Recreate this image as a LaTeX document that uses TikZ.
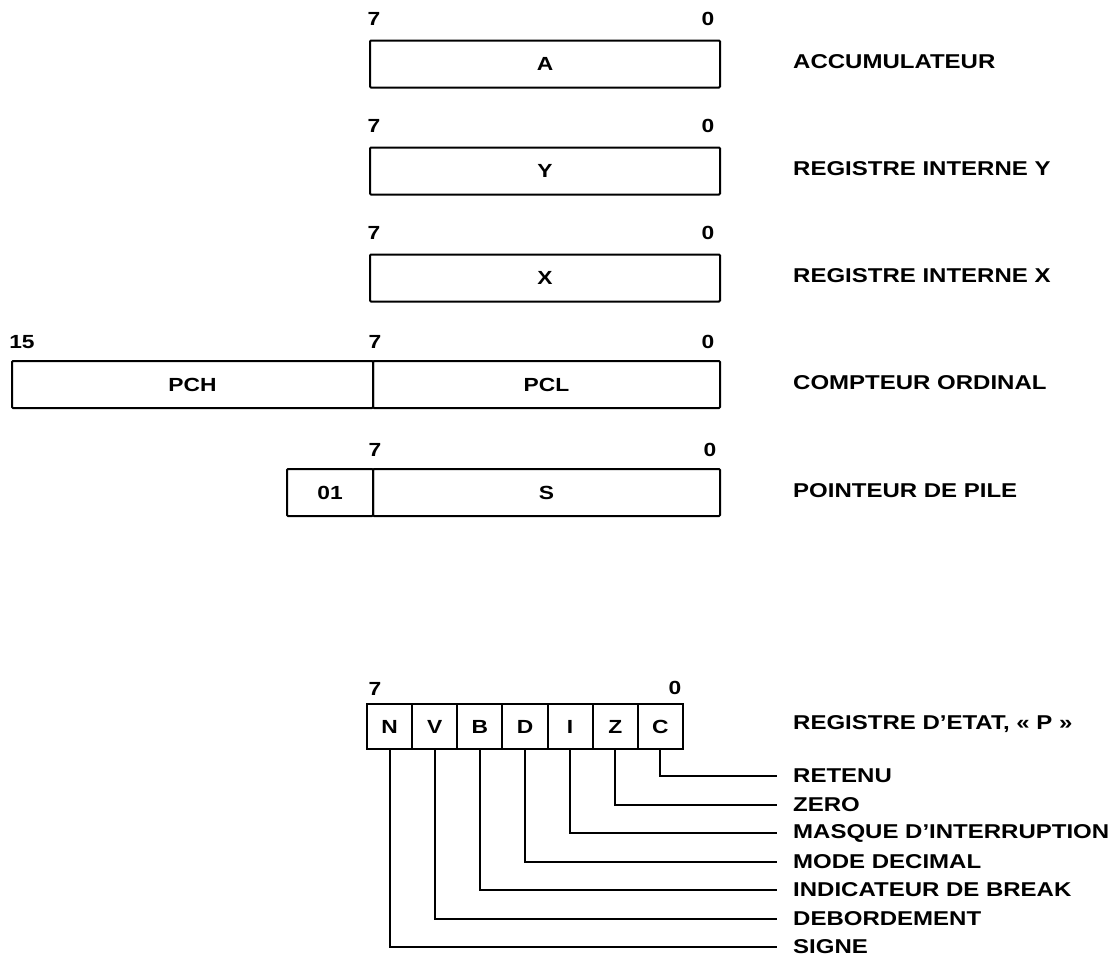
\documentclass[tikz,border=0pt]{standalone}
\usepackage{fontspec}
\setmainfont{Liberation Sans}[FakeStretch=1.2]
\begin{document}
\begin{tikzpicture}[x=1pt,y=-1pt,
  reg/.style={draw,line width=2pt,rounded corners=1pt,inner sep=0pt,minimum height=47pt,font=\fontsize{19}{21}\selectfont\bfseries},
  cell/.style={draw,line width=2pt,inner sep=0pt,minimum width=45.14pt,minimum height=45pt,font=\fontsize{19}{21}\selectfont\bfseries},
  bitnum/.style={inner sep=0pt,font=\fontsize{19}{21}\selectfont\bfseries},
  lab/.style={anchor=west,inner sep=0pt,font=\fontsize{20}{22}\selectfont\bfseries},
  flag/.style={anchor=west,inner xsep=16pt,inner ysep=0pt,font=\fontsize{20}{22}\selectfont\bfseries},
  lead/.style={line width=2pt}]
\useasboundingbox (0,0) rectangle (1118,956);
% Accumulator
\node[reg,minimum width=350pt] (A) at (545,64) {A};
\node[bitnum] (a7) at (374,19) {7};
\node[bitnum] (a0) at (708,19) {0};
\node[lab] (lA) at (793,62) {ACCUMULATEUR};
% Y
\node[reg,minimum width=350pt] (Y) at (545,171) {Y};
\node[bitnum] (y7) at (374,126) {7};
\node[bitnum] (y0) at (708,126) {0};
\node[lab] (lY) at (793,169) {REGISTRE INTERNE Y};
% X
\node[reg,minimum width=350pt] (X) at (545,278) {X};
\node[bitnum] (x7) at (374,233) {7};
\node[bitnum] (x0) at (708,233) {0};
\node[lab] (lX) at (793,276) {REGISTRE INTERNE X};
% PC
\node[reg,minimum width=361pt] (PCH) at (192.5,384.5) {PCH};
\node[reg,minimum width=347pt] (PCL) at (546.5,384.5) {PCL};
\node[bitnum] (p15) at (22,342) {15};
\node[bitnum] (p7) at (375,342) {7};
\node[bitnum] (p0) at (708,342) {0};
\node[lab] (lPC) at (793,382.5) {COMPTEUR ORDINAL};
% S
\node[reg,minimum width=86pt] (S1) at (330,492.5) {01};
\node[reg,minimum width=347pt] (S) at (546.5,492.5) {S};
\node[bitnum] (s7) at (375,450) {7};
\node[bitnum] (s0) at (710,450) {0};
\node[lab] (lS) at (793,490.5) {POINTEUR DE PILE};
% Status register
\node[cell] (N) at (389.57,726.5) {N};
\node[cell] (V) at (434.71,726.5) {V};
\node[cell] (B) at (479.85,726.5) {B};
\node[cell] (D) at (524.99,726.5) {D};
\node[cell] (I) at (570.13,726.5) {I};
\node[cell] (Z) at (615.27,726.5) {Z};
\node[cell] (C) at (660.41,726.5) {C};
\node[bitnum] (r7) at (375,689) {7};
\node[bitnum] (r0) at (675,688) {0};
\node[lab] (lP) at (793,724) {REGISTRE D'ETAT, « P »};
% Flag labels
\node[flag] (fC) at (777,776) {RETENU};
\node[flag] (fZ) at (777,804.5) {ZERO};
\node[flag] (fI) at (777,833) {MASQUE D'INTERRUPTION};
\node[flag] (fD) at (777,861.5) {MODE DECIMAL};
\node[flag] (fB) at (777,890) {INDICATEUR DE BREAK};
\node[flag] (fV) at (777,918.5) {DEBORDEMENT};
\node[flag] (fN) at (777,947) {SIGNE};
\foreach \c in {C,Z,I,D,B,V,N}{
  \draw[lead] (\c.south) |- (f\c.west);
}
\end{tikzpicture}
\end{document}
